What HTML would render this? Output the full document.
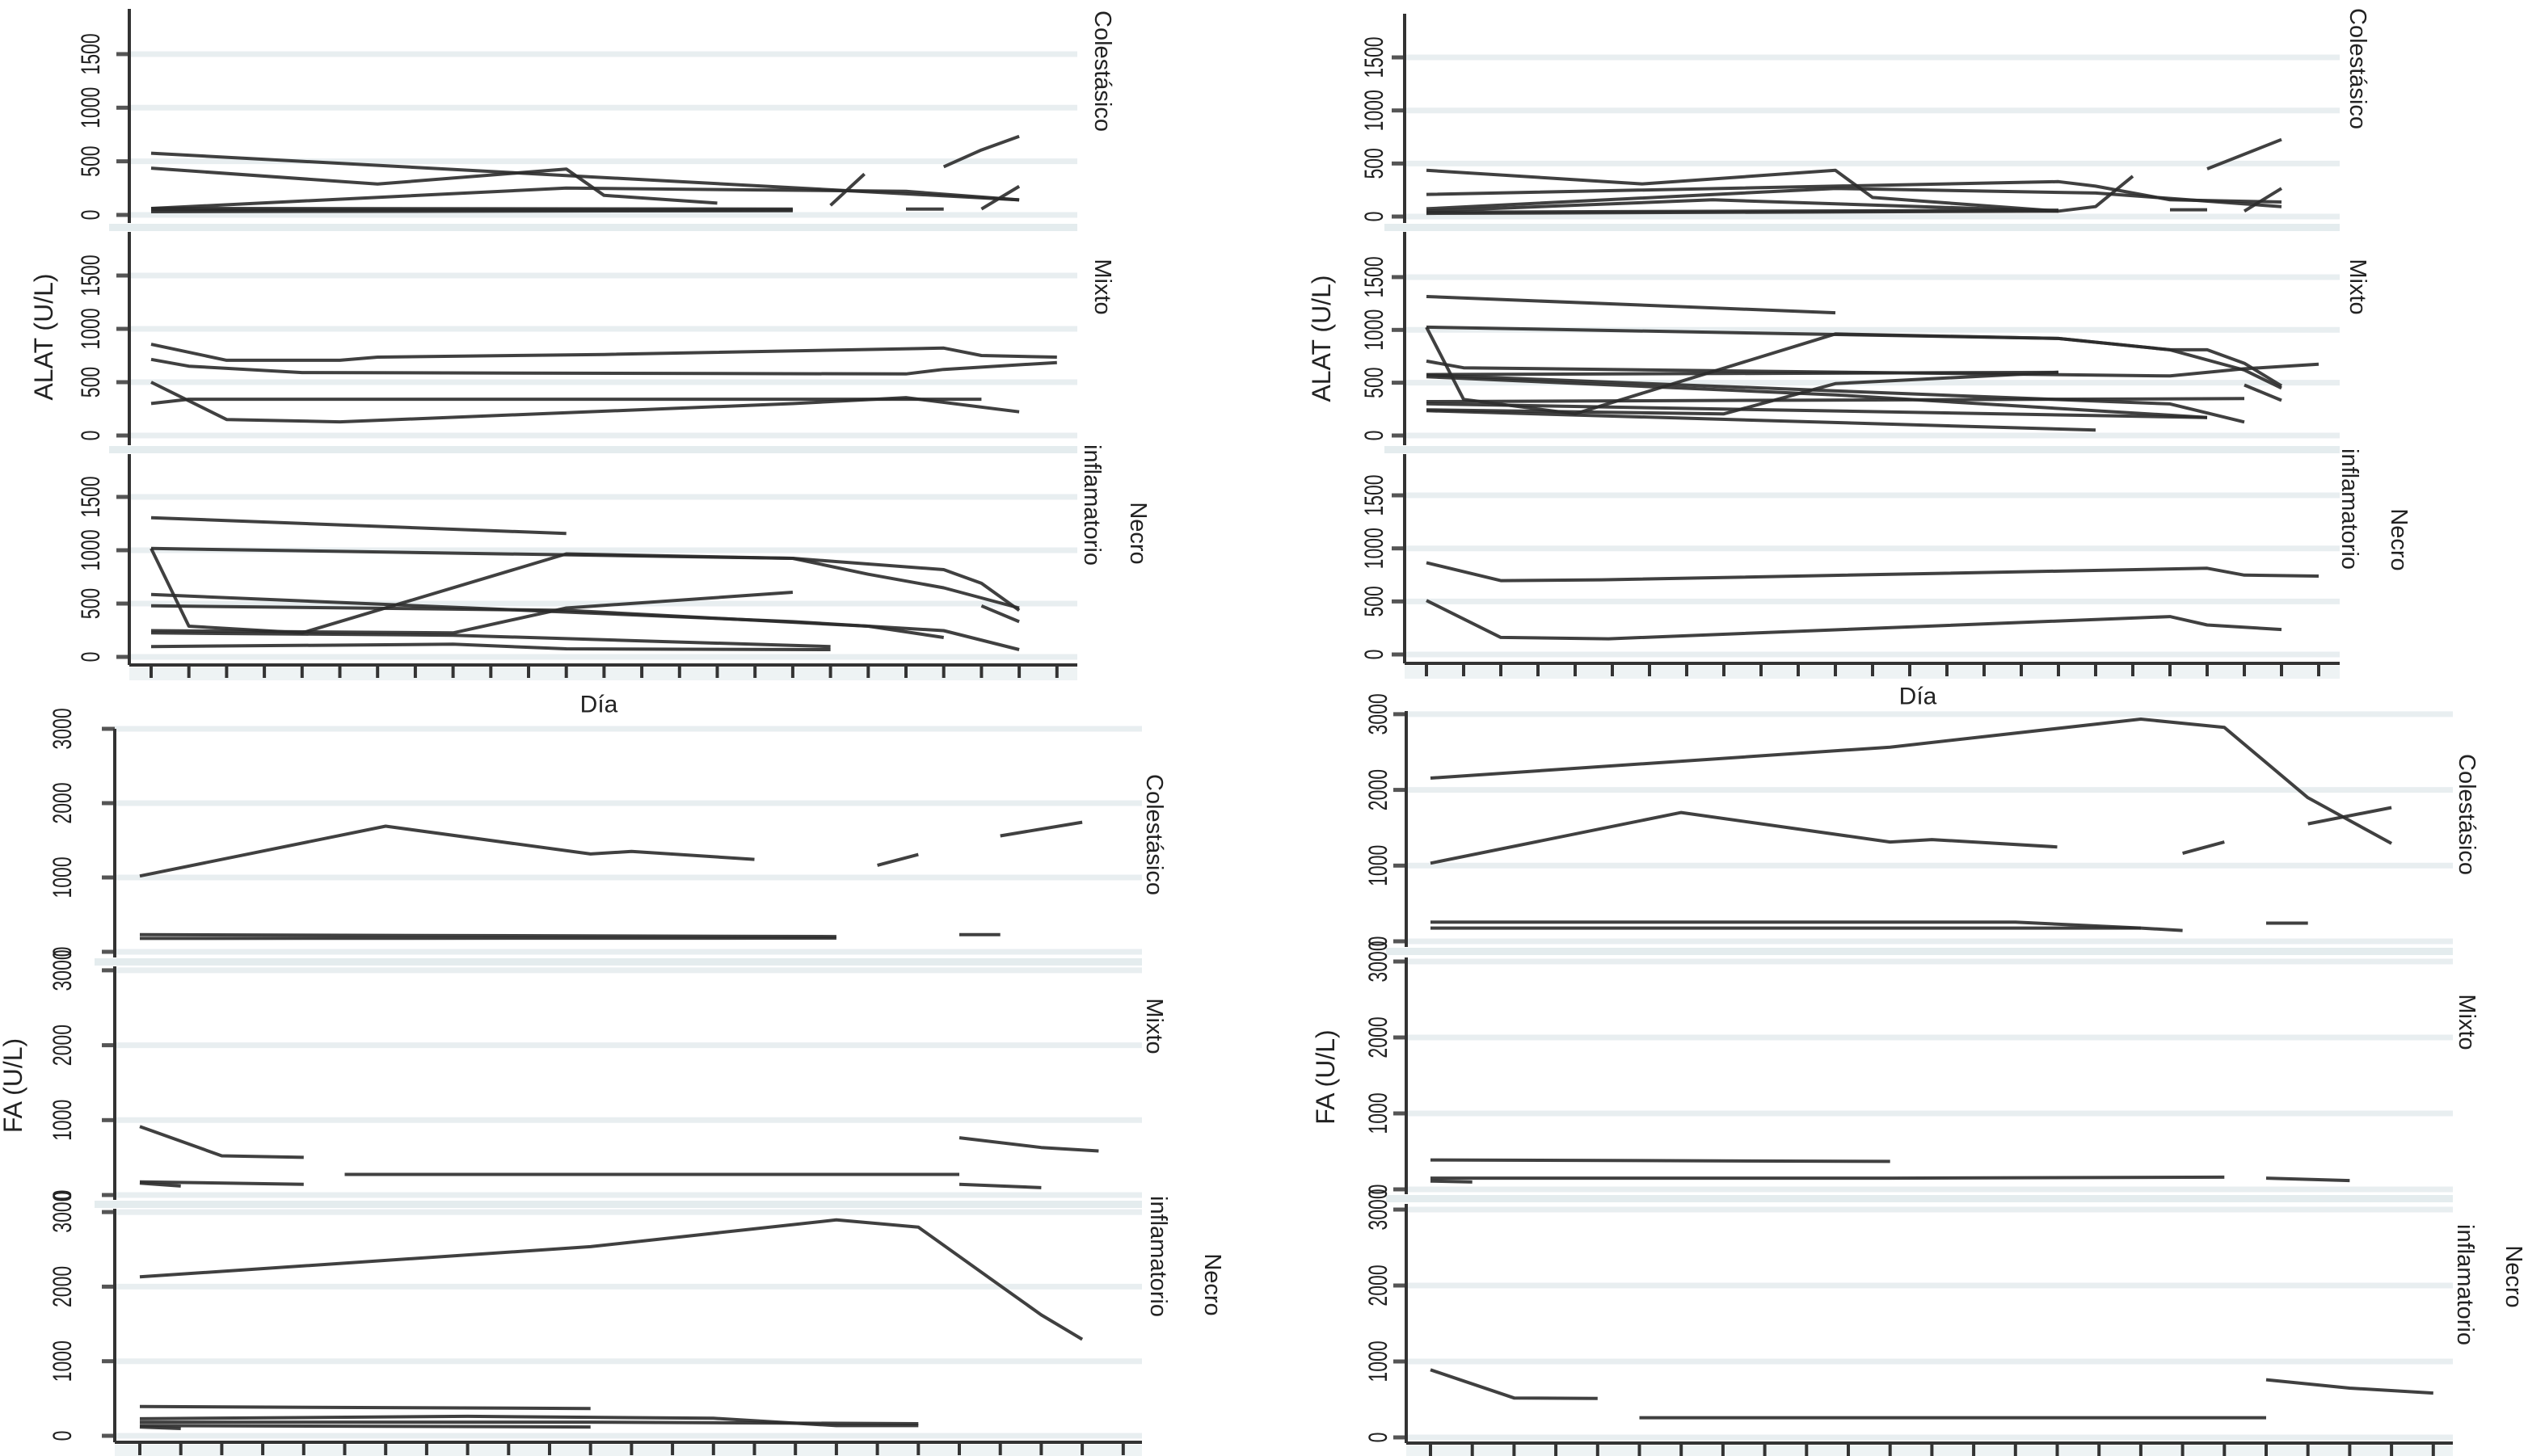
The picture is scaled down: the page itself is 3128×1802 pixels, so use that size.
<!DOCTYPE html>
<html><head><meta charset="utf-8"><style>
html,body{margin:0;padding:0;background:#fff;}
svg{display:block;}
text{font-family:"Liberation Sans",sans-serif;fill:#222;}
</style></head><body>
<svg id="chart" width="3128" height="1802" viewBox="0 0 3128 1802" xmlns="http://www.w3.org/2000/svg"></svg>
<script>
// ---- DATA: [day, value] points per patient line ----
const tlCol = [
 [[0,576],[23,140]],
 [[0,436],[6,288],[11,428],[12,182],[15,110]],
 [[0,60],[11,250],[20,220],[23,140]],
 [[0,47],[17,47]],[[0,30],[17,40]],[[0,60],[17,55]],
 [[18,89],[18.9,381]],
 [[20,55],[21,55]],
 [[21,449],[22,606],[23,733]],
 [[22,55],[23,267]]
];
const tlMix = [
 [[0,855],[2,705],[5,705],[6,735],[12,760],[21,820],[22,750],[24,735]],
 [[0,714],[1,650],[4,590],[20,577],[21,620],[24,684]],
 [[0,500],[2,150],[5,128],[17,299],[20,355],[23,222]],
 [[0,300],[1,340],[20,340],[22,340]]
];
const tlNec = [
 [[0,1305],[11,1157]],
 [[0,1017],[17,924],[21,818],[22,690],[23,436]],
 [[0,1017],[1,288],[4,225],[11,966],[17,924],[19,775],[21,648],[23,458]],
 [[0,585],[17,330],[21,246],[23,68]],
 [[0,479],[11,436],[19,288],[21,182]],
 [[0,246],[8,225],[11,458],[17,606]],
 [[0,225],[8,203],[18,97]],
 [[0,97],[8,119],[11,76],[18,68]],
 [[22,479],[23,330]]
];
const trCol = [
 [[0,436],[5.8,308],[11,436],[12,180],[17,51]],
 [[0,209],[17,329],[18,286],[20,158],[23,137]],
 [[0,73],[11,265],[18,222],[23,94]],
 [[0,51],[7.7,158],[17,51],[18,94],[19,380]],
 [[0,30],[17,51]],[[0,40],[17,60]],
 [[20,64],[21,64]],
 [[21,449],[23,726]],
 [[22,51],[23,265]]
];
const trMix = [
 [[0,1316],[11,1162]],
 [[0,1026],[17,919],[20,812],[22,620],[23,449]],
 [[0,1026],[1,342],[4,205],[11,962],[17,919],[20,812],[21,812],[22,684],[23,470]],
 [[0,705],[1,641],[20,564],[22,632],[24,675]],
 [[0,577],[17,598]],
 [[0,556],[11,385],[21,171]],
 [[0,573],[20,299],[22,128]],
 [[0,321],[22,350]],
 [[0,243],[8,205],[11,491],[17,598]],
 [[0,235],[18,51]],
 [[22,478],[23,333]],
 [[0,300],[21,171]]
];
const trNec = [
 [[0,865],[2,696],[4.7,704],[21,813],[22,748],[24,739]],
 [[0,509],[2,161],[4.9,148],[20,357],[21,278],[23,235]]
];
const blCol = [
 [[0,1020],[6,1690],[11,1316],[12,1350],[15,1243]],
 [[0,230],[17,205]],[[0,180],[17,185]],
 [[18,1164],[19,1309]],
 [[20,230],[21,230]],
 [[21,1560],[23,1743]]
];
const blMix = [
 [[0,915],[2,523],[4,503]],
 [[0,176],[4,144]],[[0,160],[1,120]],
 [[5,275],[20,275]],
 [[20,765],[22,634],[23.4,588]],
 [[20,144],[22,98]]
];
const blNec = [
 [[0,2131],[11,2536],[17,2895],[19,2797],[21,2013],[22,1621],[23,1294]],
 [[0,392],[11,366]],
 [[0,229],[8,261],[14,235],[17,137],[19,137]],
 [[0,183],[11,183],[19,163]],
 [[0,118],[1,98]],
 [[0,137],[11,118]]
];
const brCol = [
 [[0,2156],[11,2565],[17,2935],[19,2825],[21,1896],[23,1292]],
 [[0,1032],[6,1701],[11,1312],[12,1344],[15,1247]],
 [[0,253],[8,253],[14,253],[17,175],[18,143]],
 [[0,175],[17,175]],
 [[18,1162],[19,1312]],
 [[20,240],[21,240]],
 [[21,1552],[23,1766]]
];
const brMix = [
 [[0,387],[11,368]],
 [[0,148],[11,148],[19,161]],
 [[0,110],[1,97]],
 [[20,148],[22,116]]
];
const brNec = [
 [[0,890],[2,519],[4,513]],
 [[5,260],[20,260]],
 [[20,760],[22,649],[24,584]]
];
const alatTicks = [0,500,1000,1500];
const faTicks = [0,1000,2000,3000];
const facetNames = ["Colestásico","Mixto","Necro inflamatorio"];
const dayCount = 25;

// ---- LAYOUT ----
const panels = [
 {id:'alat-left', ax:160, right:1333, t0:187, step:46.7, lblX:112, ttlX:54, ttl:'ALAT (U/L)', ticks:alatTicks, dia:[741,872], stripX:1364, necX:[1351,1408], stripY:[88,355,625,660],
  facets:[{top:11,bot:276,z:266,k:0.1327,d:tlCol},{top:287,bot:551,z:539,k:0.132,d:tlMix},{top:562,bot:823,z:813,k:0.132,d:tlNec}]},
 {id:'alat-right', ax:1738, right:2895, t0:1765, step:46, lblX:1700, ttlX:1635, ttl:'ALAT (U/L)', ticks:alatTicks, dia:[2373,862], stripX:2917, necX:[2907,2968], stripY:[85,355,630,668],
  facets:[{top:17,bot:276,z:268,k:0.1313,d:trCol},{top:287,bot:551,z:539,k:0.1307,d:trMix},{top:562,bot:821,z:810,k:0.1313,d:trNec}]},
 {id:'fa-left', ax:142, right:1413, t0:173, step:50.7, lblX:77, ttlX:16, ttl:'FA (U/L)', ticks:faTicks, dia:null, stripX:1428, necX:[1433,1500], stripY:[1033,1270,1555,1590],
  facets:[{top:902,bot:1185,z:1178,k:0.092,d:blCol},{top:1196,bot:1485,z:1479,k:0.0927,d:blMix},{top:1496,bot:1785,z:1777,k:0.0923,d:blNec}]},
 {id:'fa-right', ax:1740, right:3035, t0:1770, step:51.7, lblX:1705, ttlX:1640, ttl:'FA (U/L)', ticks:faTicks, dia:null, stripX:3052, necX:[3050,3110], stripY:[1008,1265,1590,1580],
  facets:[{top:880,bot:1172,z:1165,k:0.0937,d:brCol},{top:1185,bot:1478,z:1472,k:0.094,d:brMix},{top:1490,bot:1786,z:1779,k:0.094,d:brNec}]}
];

const NS='http://www.w3.org/2000/svg';
const svg=document.getElementById('chart');
function mk(tag,attrs,parent){const e=document.createElementNS(NS,tag);for(const k in attrs)e.setAttribute(k,attrs[k]);(parent||svg).appendChild(e);return e;}

panels.forEach(p=>{
 const g=mk('g',{});
 
 
 const xs=d=>p.t0+d*p.step;
 p.facets.forEach((f,fi)=>{
  const ys=v=>f.z-v*f.k;
  const fg=mk('g',{},g);
  
  
  p.ticks.forEach(t=>{
   const gl=mk('line',{x1:p.ax,x2:p.right,y1:ys(t),y2:ys(t),stroke:'#e8eef0','stroke-width':7},fg);
   
   
   const tk=mk('line',{x1:p.ax-16,x2:p.ax,y1:ys(t),y2:ys(t),stroke:'#555','stroke-width':5},fg);
   
   
   const tl=mk('text',{x:0,y:0,'font-size':32,'text-anchor':'middle','dominant-baseline':'central',transform:`translate(${p.lblX} ${ys(t)}) rotate(-90) scale(0.72 1)`},fg);
   tl.textContent=t;
   
   
  });
  if(fi<2){
   const sb=mk('rect',{x:p.ax-25,y:f.bot+1,width:p.right-p.ax+25,height:9,fill:'#e4ecee'},fg);
   
   
  }
  const al=mk('line',{x1:p.ax,x2:p.ax,y1:f.top,y2:f.bot,stroke:'#333','stroke-width':4},fg);
  
  
  f.d.forEach(s=>{
   const pts=s.map(q=>xs(q[0]).toFixed(1)+','+ys(q[1]).toFixed(1)).join(' ');
   const pl=mk('polyline',{points:pts,fill:'none',stroke:'#2b2b2b','stroke-width':4,'stroke-linejoin':'round',opacity:0.9},fg);
   
   
  });
  if(fi<2){
   const cy=p.stripY[fi];
   const st=mk('text',{x:p.stripX,y:cy,'font-size':29,'text-anchor':'middle','dominant-baseline':'central',transform:`rotate(90 ${p.stripX} ${cy})`},fg);
   st.textContent=facetNames[fi];
   
   
  } else {
   const cy2=p.stripY[2];
   const a=mk('text',{x:p.necX[0],y:cy2,'font-size':29,'text-anchor':'middle','dominant-baseline':'central',transform:`rotate(90 ${p.necX[0]} ${cy2})`},fg);
   a.textContent='inflamatorio';
   
   
   const cy3=p.stripY[3];
   const b=mk('text',{x:p.necX[1],y:cy3,'font-size':29,'text-anchor':'middle','dominant-baseline':'central',transform:`rotate(90 ${p.necX[1]} ${cy3})`},fg);
   b.textContent='Necro';
   
   
  }
 });
 const last=p.facets[2];
 const xa=mk('line',{x1:p.ax,x2:p.right,y1:last.bot,y2:last.bot,stroke:'#333','stroke-width':4},g);
 
 
 const xb=mk('rect',{x:p.ax,y:last.bot+3,width:p.right-p.ax,height:16,fill:'#eef3f4'},g);
 
 
 for(let i=0;i<dayCount;i++){
  const xt=mk('line',{x1:xs(i),x2:xs(i),y1:last.bot,y2:last.bot+16,stroke:'#333','stroke-width':4},g);
  
  
 }
 if(p.dia){
  const dt=mk('text',{x:p.dia[0],y:p.dia[1],'font-size':30,'text-anchor':'middle','dominant-baseline':'central'},g);
  dt.textContent='Día';
  
  
 }
 const my=(p.facets[0].top+last.bot)/2;
 const yt=mk('text',{x:p.ttlX,y:my,'font-size':32,'text-anchor':'middle','dominant-baseline':'central',transform:`rotate(-90 ${p.ttlX} ${my})`},g);
 yt.textContent=p.ttl;
 
 
});
</script>
</body></html>
